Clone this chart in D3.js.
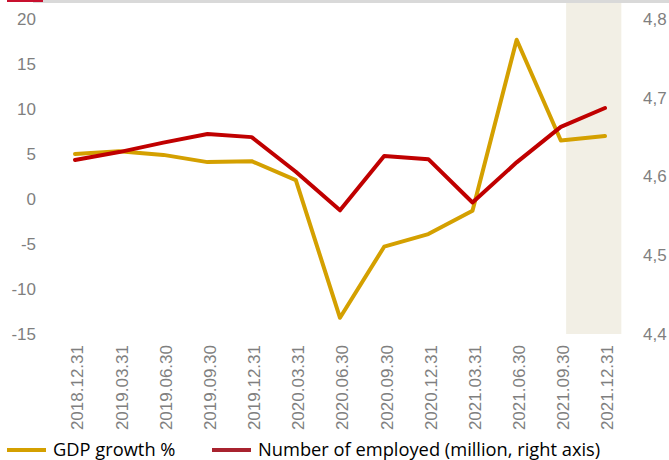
<!DOCTYPE html>
<html>
<head>
<meta charset="utf-8">
<script src="https://cdn.jsdelivr.net/npm/d3@7"></script>
<style>
  html, body { margin: 0; padding: 0; background: #fff; }
  svg { display: block; font-family: "Open Sans", sans-serif; }
</style>
</head>
<body>
<svg id="chart" width="669" height="460"></svg>
<script>
// Quarter-end dates
const categories = [
  "2018.12.31", "2019.03.31", "2019.06.30", "2019.09.30", "2019.12.31",
  "2020.03.31", "2020.06.30", "2020.09.30", "2020.12.31", "2021.03.31",
  "2021.06.30", "2021.09.30", "2021.12.31"
];
// GDP growth, % (left axis)
const gdpGrowth = [5.0, 5.3, 4.9, 4.1, 4.2, 2.1, -13.2, -5.3, -3.9, -1.3, 17.7, 6.5, 7.0];
// Number of employed, million (right axis)
const employed = [4.621, 4.631, 4.643, 4.654, 4.650, 4.606, 4.557, 4.626, 4.622, 4.567, 4.618, 4.663, 4.687];
// Tick labels
const leftTicks = [20, 15, 10, 5, 0, -5, -10, -15];
const rightTicks = [4.8, 4.7, 4.6, 4.5, 4.4];
// Series names for the legend
const seriesNames = ["GDP growth %", "Number of employed (million, right axis)"];
// Highlighted (forecast) period
const highlightCategory = "2021.12.31";

const svg = d3.select("#chart");
const gold = "#d4a000";
const red = "#c00000";
const tickColor = "#7f7f7f";

const x = d3.scalePoint().domain(categories).range([75, 605]);
const step = x.step();
const yL = d3.scaleLinear().domain([-15, 20]).range([334, 19]);
const yR = d3.scaleLinear().domain([4.4, 4.8]).range([334, 19]);

// Header strip
svg.append("rect").attr("x", 33).attr("y", 0).attr("width", 636).attr("height", 3).attr("fill", "#d9d9d9");
svg.append("rect").attr("x", 7).attr("y", 0).attr("width", 36).attr("height", 2).attr("fill", "#c8102e");

// Shaded period
const hx = x(highlightCategory);
svg.append("rect")
  .attr("x", hx - step * 0.88)
  .attr("y", 3)
  .attr("width", step * 1.25)
  .attr("height", yL(-15) - 3)
  .attr("fill", "#f2efe5");

// Left axis (plain hyphen for negatives)
const leftAxis = svg.append("g").attr("transform", "translate(36,0)")
  .call(d3.axisLeft(yL).tickValues(leftTicks).tickSize(0).tickPadding(0).tickFormat(d => String(d)));
leftAxis.select(".domain").remove();
leftAxis.selectAll("text").attr("fill", tickColor).style("font-size", "17px");

// Right axis, decimal comma
const commaFmt = d => d.toFixed(1).replace(".", ",");
const rightAxis = svg.append("g").attr("transform", "translate(643,0)")
  .call(d3.axisRight(yR).tickValues(rightTicks).tickSize(0).tickPadding(0).tickFormat(commaFmt));
rightAxis.select(".domain").remove();
rightAxis.selectAll("text").attr("fill", tickColor).style("font-size", "17px");

// Category axis, rotated labels
const bottomAxis = svg.append("g").attr("transform", "translate(0,345)")
  .call(d3.axisBottom(x).tickSize(0).tickPadding(0));
bottomAxis.select(".domain").remove();
bottomAxis.selectAll("text")
  .attr("fill", tickColor)
  .style("font-size", "17px")
  .attr("text-anchor", "end")
  .attr("transform", "translate(2,0) rotate(-90)")
  .attr("x", 0)
  .attr("y", 0)
  .attr("dy", "0.35em");

// Lines
const gdpLine = d3.line().x((d, i) => x(categories[i])).y(d => yL(d));
const empLine = d3.line().x((d, i) => x(categories[i])).y(d => yR(d));

svg.append("path").datum(gdpGrowth)
  .attr("d", gdpLine).attr("fill", "none").attr("stroke", gold)
  .attr("stroke-width", 4).attr("stroke-linejoin", "round").attr("stroke-linecap", "round");

svg.append("path").datum(employed)
  .attr("d", empLine).attr("fill", "none").attr("stroke", red)
  .attr("stroke-width", 4).attr("stroke-linejoin", "round").attr("stroke-linecap", "round");

// Legend
const legend = svg.append("g");
const legendItems = [
  { name: seriesNames[0], color: gold, x: 7 },
  { name: seriesNames[1], color: "#a8232f", x: 212 }
];
legendItems.forEach(it => {
  legend.append("line")
    .attr("x1", it.x).attr("x2", it.x + 39)
    .attr("y1", 450).attr("y2", 450)
    .attr("stroke", it.color).attr("stroke-width", 4);
  legend.append("text")
    .attr("x", it.x + 46).attr("y", 456)
    .attr("fill", "#000")
    .style("font-size", "18.3px")
    .text(it.name);
});
</script>
</body>
</html>
